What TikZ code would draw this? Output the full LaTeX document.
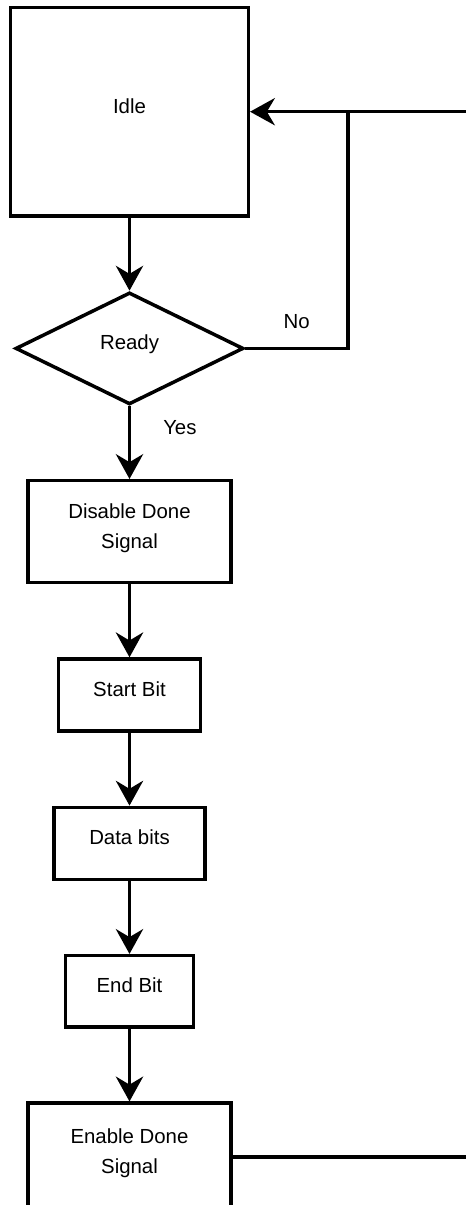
\documentclass[tikz,border=0pt]{standalone}
\usepackage{fontspec}
\setmainfont{Liberation Sans}
\usepackage{tikz}
\usetikzlibrary{positioning}
\usetikzlibrary{arrows.meta,shapes.geometric}

\begin{document}
\begin{tikzpicture}[>={Stealth[length=0.62cm,width=0.68cm,inset=0.2cm]},line width=2.5pt,auto,node distance=1.82cm,
    every node/.style={font=\fontsize{14.5}{21.3}\selectfont},
    box/.style={draw,rectangle,align=center,text height=0.37cm,text depth=0.3cm},
    twoline/.style={box,text height=1.12cm},
    decision/.style={draw,diamond,aspect=2,inner sep=0pt,text height=0.37cm,text depth=0.3cm},
    lbl/.style={inner sep=0pt}]
  \useasboundingbox (-3.2375,2.7925) rectangle (8.3875,-27.3325);
  \node[box,minimum width=5.94cm,minimum height=5.22cm]      (Idle)                      {Idle};
  \node[decision,minimum width=5.7cm,minimum height=2.8cm]   (Ready)   [below=of Idle]   {Ready};
  \node[twoline,minimum width=5.075cm,minimum height=2.55cm] (Disable) [below=of Ready]  {Disable Done\\Signal};
  \node[box,minimum width=3.54cm,minimum height=1.8cm]       (Start)   [below=of Disable] {Start Bit};
  \node[box,minimum width=3.78cm,minimum height=1.8cm]       (Data)    [below=of Start]  {Data bits};
  \node[box,minimum width=3.19cm,minimum height=1.78cm]      (End)     [below=of Data]   {End Bit};
  \node[twoline,minimum width=5.075cm,minimum height=2.7cm]  (Enable)  [below=of End]    {Enable Done\\Signal};

  \coordinate (Join)   at (5.4625,0);
  \coordinate (Return) at (8.5,0);
  \coordinate (Exit)   at (Enable.east -| Return);

  \path[->]
    (Idle)    edge (Ready)
    (Ready)   edge node[lbl,pos=0.3,right=0.8cm] {Yes} (Disable)
    (Disable) edge (Start)
    (Start)   edge (Data)
    (Data)    edge (End)
    (End)     edge (Enable);
  \draw[->] (Ready) -- node[lbl,above=0.44cm] {No} (Ready -| Join) -- (Join) -- (Idle);
  \draw (Return) -- (Join);
  \draw (Enable) -- (Exit);
\end{tikzpicture}
\end{document}
